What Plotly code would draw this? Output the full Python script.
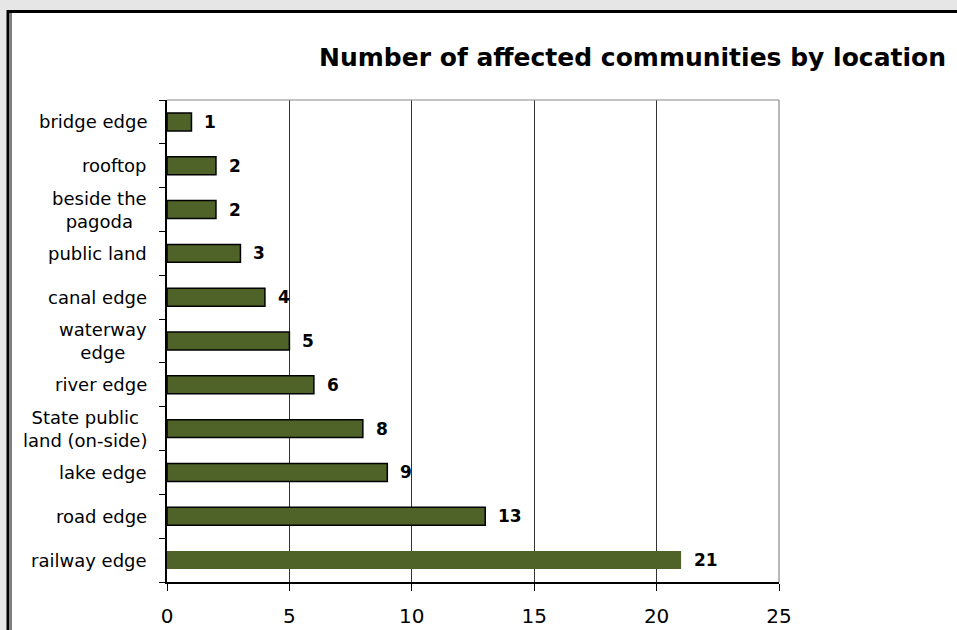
import plotly.graph_objects as go

categories = ["railway edge", "road edge", "lake edge", "State public<br>land (on-side)",
              "river edge", "waterway<br>edge", "canal edge", "public land",
              "beside the<br>pagoda", "rooftop", "bridge edge"]
values = [21, 13, 9, 8, 6, 5, 4, 3, 2, 2, 1]
outline_widths = [0, 1.5, 1.5, 1.5, 1.5, 1.5, 1.5, 1.5, 1.5, 1.5, 1.5]
x_ticks = [0, 5, 10, 15, 20, 25]
title = "Number of affected communities by location"

W, H = 957, 630
L, R, T, B = 167, 779, 100, 582
FONT = "DejaVu Sans, Liberation Sans, Arial"

def px(x):
    return (x - L) / (R - L)

def py(y):
    return (B - y) / (B - T)

fig = go.Figure()
fig.add_trace(go.Bar(
    y=categories, x=values, orientation="h", width=0.41,
    marker=dict(color="#4F6228", line=dict(color="black", width=outline_widths)),
    hoverinfo="skip",
))

for c, v in zip(categories, values):
    fig.add_annotation(x=v, y=c, text="<b>%d</b>" % v, showarrow=False,
                       xanchor="left", xshift=11,
                       font=dict(family=FONT, size=17, color="black"))
    fig.add_annotation(x=0, xref="paper", y=c, text=c, showarrow=False,
                       xanchor="right", xshift=-18, align="center",
                       font=dict(family=FONT, size=18, color="black"))

shapes = [
    dict(type="rect", xref="paper", yref="paper", layer="below",
         x0=px(8), x1=px(1100), y0=py(800), y1=py(11.5),
         fillcolor="white", line=dict(color="black", width=3)),
    dict(type="line", xref="paper", yref="paper", layer="below",
         x0=px(11), x1=px(11), y0=py(800), y1=py(13),
         line=dict(color="black", width=1)),
    dict(type="line", xref="paper", yref="paper", x0=0, x1=1, y0=1, y1=1,
         line=dict(color="#888888", width=1.2)),
    dict(type="line", xref="paper", yref="paper", x0=1, x1=1, y0=0, y1=1,
         line=dict(color="#888888", width=1.2)),
]

fig.update_layout(
    width=W, height=H,
    margin=dict(l=L, r=W - R, t=T, b=H - B, autoexpand=False),
    paper_bgcolor="#e6e6e6", plot_bgcolor="white",
    showlegend=False, shapes=shapes,
    font=dict(family=FONT, color="black"),
    title=dict(text="<b>%s</b>" % title, xref="container", yref="container",
               x=946 / W, xanchor="right", y=1 - 57 / H, yanchor="middle",
               font=dict(size=25, color="black", family=FONT)),
    bargap=0.59,
)
fig.update_xaxes(range=[0, 25], tickvals=x_ticks, ticktext=[str(t) for t in x_ticks],
                 showgrid=True, gridcolor="#333333", gridwidth=1,
                 showline=True, linecolor="black", linewidth=1.5,
                 ticks="outside", ticklen=7, tickcolor="black", automargin=False,
                 ticklabelstandoff=8, tickfont=dict(size=20), zeroline=False, fixedrange=True)
fig.update_yaxes(type="category", categoryorder="array", categoryarray=categories,
                 showline=True, linecolor="black", linewidth=1.5, automargin=False,
                 ticks="outside", ticklen=6, tickcolor="black", tickson="boundaries",
                 showticklabels=False, showgrid=False, fixedrange=True)

fig.write_html("out.html", config={"displayModeBar": False},
               post_script="document.body.style.margin='0';document.body.style.overflow='hidden';")
